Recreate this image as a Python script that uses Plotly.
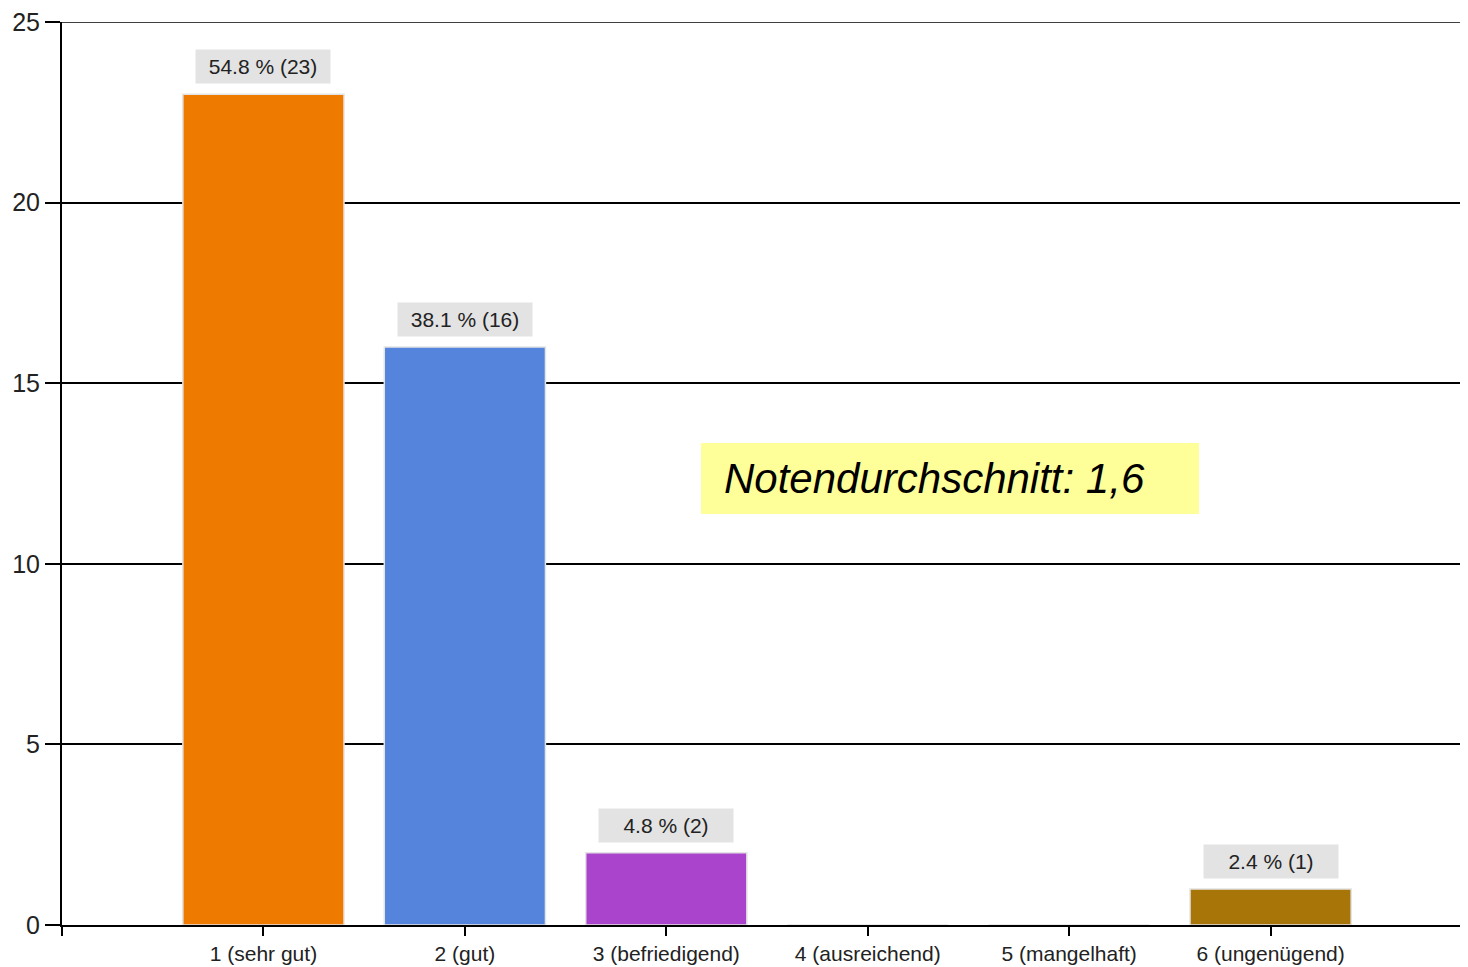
import plotly.graph_objects as go

categories = ["1 (sehr gut)", "2 (gut)", "3 (befriedigend)", "4 (ausreichend)", "5 (mangelhaft)", "6 (ungenügend)"]
positions = [1, 2, 3, 4, 5, 6]
counts = [23, 16, 2, 0, 0, 1]
percents = [54.8, 38.1, 4.8, 0.0, 0.0, 2.4]
bar_colors = ["#EE7B00", "#5484DC", "#AA44CC", "#A87508", "#A87508", "#A87508"]
y_ticks = [0, 5, 10, 15, 20, 25]
y_max = 25
average_text = "Notendurchschnitt: 1,6"

FONT = "Liberation Sans, Arial, sans-serif"

fig = go.Figure()
fig.add_trace(go.Bar(
    x=positions,
    y=counts,
    width=0.8,
    marker=dict(color=bar_colors, line=dict(color="#E4E4E4", width=1.5)),
    showlegend=False,
    hoverinfo="skip",
))

annotations = []
for p, c, pc in zip(positions, counts, percents):
    if c <= 0:
        continue
    annotations.append(dict(
        x=p, y=c, xref="x", yref="y",
        text=f"{pc:.1f} % ({c})",
        showarrow=False,
        yanchor="bottom", xanchor="center",
        yshift=10,
        bgcolor="#E3E3E3",
        width=126, height=25, borderpad=4,
        font=dict(family=FONT, size=21, color="#222222"),
    ))

annotations.append(dict(
    x=0.4694, y=0.4945, xref="paper", yref="paper",
    text=f"<i>{average_text}</i>",
    showarrow=False,
    xanchor="left", yanchor="middle",
    font=dict(family=FONT, size=42, color="#000000"),
))

fig.update_layout(
    width=1460, height=959,
    margin=dict(l=54, r=0, t=12, b=42),
    plot_bgcolor="white",
    paper_bgcolor="white",
    bargap=0.2,
    annotations=annotations,
    shapes=[
        dict(
            type="rect", xref="paper", yref="paper",
            x0=0.4545, x1=0.8087, y0=0.4552, y1=0.5337,
            fillcolor="#FFFF99", line=dict(width=0), layer="above",
        ),
        dict(
            type="line", xref="paper", yref="y",
            x0=0, x1=1, y0=y_max, y1=y_max,
            line=dict(color="#000000", width=1.5), layer="below",
        ),
    ],
    xaxis=dict(
        range=[0, 6.98],
        tickmode="array",
        tickvals=[0] + positions,
        ticktext=[""] + categories,
        ticks="outside", ticklen=9, tickwidth=2, tickcolor="#000000",
        showgrid=False,
        showline=True, linecolor="#000000", linewidth=2,
        zeroline=False,
        tickfont=dict(family=FONT, size=21, color="#222222"),
    ),
    yaxis=dict(
        range=[0, y_max],
        tickmode="array",
        tickvals=y_ticks,
        ticks="outside", ticklen=15, tickwidth=2, tickcolor="#000000",
        showgrid=True, gridcolor="#000000", gridwidth=1.5,
        showline=True, linecolor="#000000", linewidth=2,
        zeroline=False,
        ticklabeloverflow="allow",
        tickfont=dict(family=FONT, size=25, color="#222222"),
    ),
)

fig.write_html("out.html")
